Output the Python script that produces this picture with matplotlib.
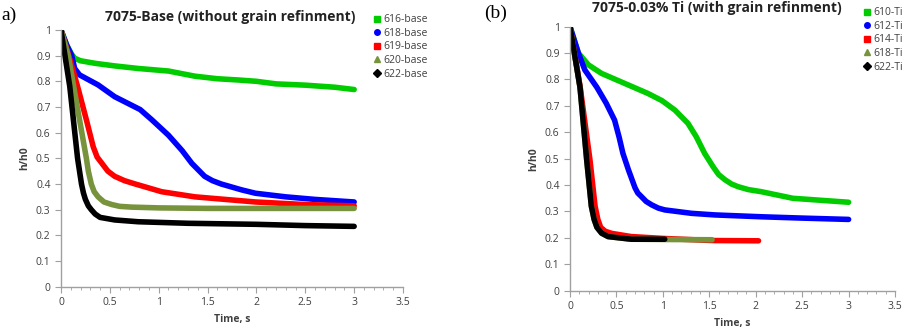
import matplotlib
matplotlib.use("Agg")
import matplotlib.pyplot as plt
from matplotlib.ticker import MultipleLocator

# ---- panel (a): 7075-Base ----
t_616b = [0.0, 0.06, 0.11, 0.14, 0.2, 0.35, 0.55, 0.79, 1.1, 1.37, 1.6, 1.82, 2.0, 2.2, 2.5, 2.8, 3.0]
h_616b = [1.0, 0.94, 0.905, 0.89, 0.88, 0.87, 0.86, 0.85, 0.84, 0.82, 0.81, 0.805, 0.80, 0.79, 0.785, 0.777, 0.768]
t_618b = [0.0, 0.06, 0.11, 0.14, 0.19, 0.38, 0.55, 0.81, 0.93, 1.1, 1.24, 1.34, 1.47, 1.55, 1.64, 1.85, 1.99, 2.3, 2.6, 3.0]
h_618b = [1.0, 0.94, 0.90, 0.85, 0.825, 0.786, 0.74, 0.69, 0.65, 0.59, 0.53, 0.48, 0.43, 0.413, 0.40, 0.377, 0.364, 0.35, 0.34, 0.33]
t_619b = [0.0, 0.08, 0.17, 0.26, 0.30, 0.33, 0.37, 0.42, 0.48, 0.55, 0.65, 0.76, 1.03, 1.37, 1.99, 2.5, 3.0]
h_619b = [1.0, 0.90, 0.78, 0.65, 0.59, 0.545, 0.505, 0.48, 0.45, 0.43, 0.413, 0.40, 0.37, 0.35, 0.33, 0.32, 0.315]
t_620b = [0.0, 0.075, 0.19, 0.26, 0.28, 0.31, 0.34, 0.38, 0.44, 0.52, 0.6, 0.72, 1.0, 1.5, 2.0, 2.5, 3.0]
h_620b = [1.0, 0.90, 0.65, 0.50, 0.45, 0.40, 0.37, 0.35, 0.33, 0.32, 0.313, 0.31, 0.307, 0.305, 0.305, 0.305, 0.305]
t_622b = [0.0, 0.09, 0.17, 0.21, 0.23, 0.25, 0.28, 0.31, 0.35, 0.40, 0.55, 0.79, 1.3, 2.0, 2.5, 3.0]
h_622b = [1.0, 0.78, 0.50, 0.40, 0.365, 0.34, 0.315, 0.30, 0.283, 0.27, 0.26, 0.253, 0.247, 0.243, 0.238, 0.235]

# ---- panel (b): 7075-0.03% Ti ----
t_610t = [0.0, 0.09, 0.2, 0.34, 0.59, 0.84, 0.99, 1.13, 1.27, 1.36, 1.45, 1.54, 1.6, 1.67, 1.74, 1.81, 1.92, 2.06, 2.4, 2.8, 3.0]
h_610t = [1.0, 0.90, 0.855, 0.823, 0.785, 0.747, 0.72, 0.684, 0.634, 0.583, 0.52, 0.47, 0.44, 0.42, 0.404, 0.394, 0.383, 0.375, 0.35, 0.34, 0.335]
t_612t = [0.0, 0.09, 0.16, 0.29, 0.39, 0.48, 0.53, 0.57, 0.63, 0.70, 0.73, 0.77, 0.82, 0.88, 0.95, 1.02, 1.31, 1.56, 2.06, 2.5, 3.0]
h_612t = [1.0, 0.90, 0.836, 0.77, 0.71, 0.646, 0.58, 0.52, 0.457, 0.39, 0.37, 0.356, 0.338, 0.325, 0.313, 0.306, 0.293, 0.287, 0.28, 0.275, 0.27]
t_614t = [0.0, 0.11, 0.215, 0.27, 0.30, 0.33, 0.38, 0.45, 0.66, 1.0, 1.53, 2.03]
h_614t = [1.0, 0.77, 0.495, 0.32, 0.27, 0.24, 0.225, 0.217, 0.205, 0.198, 0.19, 0.189]
t_618t = [0.0, 0.108, 0.18, 0.23, 0.26, 0.29, 0.34, 0.41, 0.66, 1.0, 1.53]
h_618t = [1.0, 0.77, 0.495, 0.32, 0.27, 0.24, 0.218, 0.205, 0.195, 0.194, 0.193]
t_622t = [0.0, 0.108, 0.18, 0.23, 0.26, 0.29, 0.34, 0.41, 0.66, 1.02]
h_622t = [1.0, 0.77, 0.495, 0.32, 0.27, 0.24, 0.218, 0.205, 0.195, 0.195]

GREEN = "#00cc00"
BLUE = "#0000ff"
RED = "#ff0000"
OLIVE = "#77933c"
BLACK = "#000000"

panel_a = [
    ("616-base", t_616b, h_616b, GREEN, "s"),
    ("618-base", t_618b, h_618b, BLUE, "o"),
    ("619-base", t_619b, h_619b, RED, "s"),
    ("620-base", t_620b, h_620b, OLIVE, "^"),
    ("622-base", t_622b, h_622b, BLACK, "D"),
]
panel_b = [
    ("610-Ti", t_610t, h_610t, GREEN, "s"),
    ("612-Ti", t_612t, h_612t, BLUE, "o"),
    ("614-Ti", t_614t, h_614t, RED, "s"),
    ("618-Ti", t_618t, h_618t, OLIVE, "^"),
    ("622-Ti", t_622t, h_622t, BLACK, "D"),
]

plt.rcParams["font.family"] = ["Open Sans", "DejaVu Sans"]
TXT = "#404040"

fig = plt.figure(figsize=(9.21, 3.30), dpi=100)


def draw_panel(ax, series, title, title_x, title_y, leg_anchor):
    for name, t, h, c, m in series:
        ax.plot(t, h, color=c, lw=4.0, solid_capstyle="round", solid_joinstyle="round")
        # legend proxy
        ax.plot([], [], ls="none", marker=m, color=c, ms=4, label=name)
    ax.set_xlim(0, 3.5)
    ax.set_ylim(0, 1)
    ax.xaxis.set_minor_locator(MultipleLocator(0.1))
    ax.set_xticks([0, 0.5, 1, 1.5, 2, 2.5, 3, 3.5])
    ax.set_xticklabels(["0", "0.5", "1", "1.5", "2", "2.5", "3", "3.5"])
    ax.set_yticks([i / 10 for i in range(11)])
    ax.set_yticklabels(["0", "0.1", "0.2", "0.3", "0.4", "0.5", "0.6", "0.7", "0.8", "0.9", "1"])
    for s in ["top", "right"]:
        ax.spines[s].set_visible(False)
    for s in ["left", "bottom"]:
        ax.spines[s].set_color("#a0a0a0")
        ax.spines[s].set_linewidth(1.0)
    ax.tick_params(axis="both", which="major", length=4, color="#a0a0a0",
                   labelsize=7.5, labelcolor=TXT, direction="out")
    ax.tick_params(axis="x", which="minor", length=2, color="#a0a0a0", direction="out")
    ax.set_xlabel("Time, s", fontsize=7.5, fontweight="bold", color=TXT, labelpad=4)
    ax.set_ylabel("h/h0", fontsize=7.5, fontweight="bold", color=TXT, labelpad=4)
    fig.text(title_x, title_y, title, ha="center", va="center",
             fontsize=10, fontweight="bold", color="#222222")
    leg = ax.legend(loc="upper left", bbox_to_anchor=leg_anchor, bbox_transform=fig.transFigure,
                    frameon=False, fontsize=7.5, handletextpad=0.1, handlelength=1.0,
                    labelspacing=0.25, borderaxespad=0)
    for t in leg.get_texts():
        t.set_color(TXT)


ax1 = fig.add_axes([0.0662, 0.1312, 0.3714, 0.778])
draw_panel(ax1, panel_a, "7075-Base (without grain refinment)",
           230 / 921, 1 - 17 / 330, (368 / 921, 1 - 10 / 330))

ax2 = fig.add_axes([0.6189, 0.1191, 0.3529, 0.800])
draw_panel(ax2, panel_b, "7075-0.03% Ti (with grain refinment)",
           717 / 921, 1 - 8 / 330, (858 / 921, 1 - 3 / 330))

fig.text(1 / 921, 1 - 15 / 330, "a)", fontsize=14, family="Liberation Serif",
         ha="left", va="center")
fig.text(484 / 921, 1 - 13 / 330, "(b)", fontsize=14, family="Liberation Serif",
         ha="left", va="center")

fig.savefig("out.png", dpi=100)
